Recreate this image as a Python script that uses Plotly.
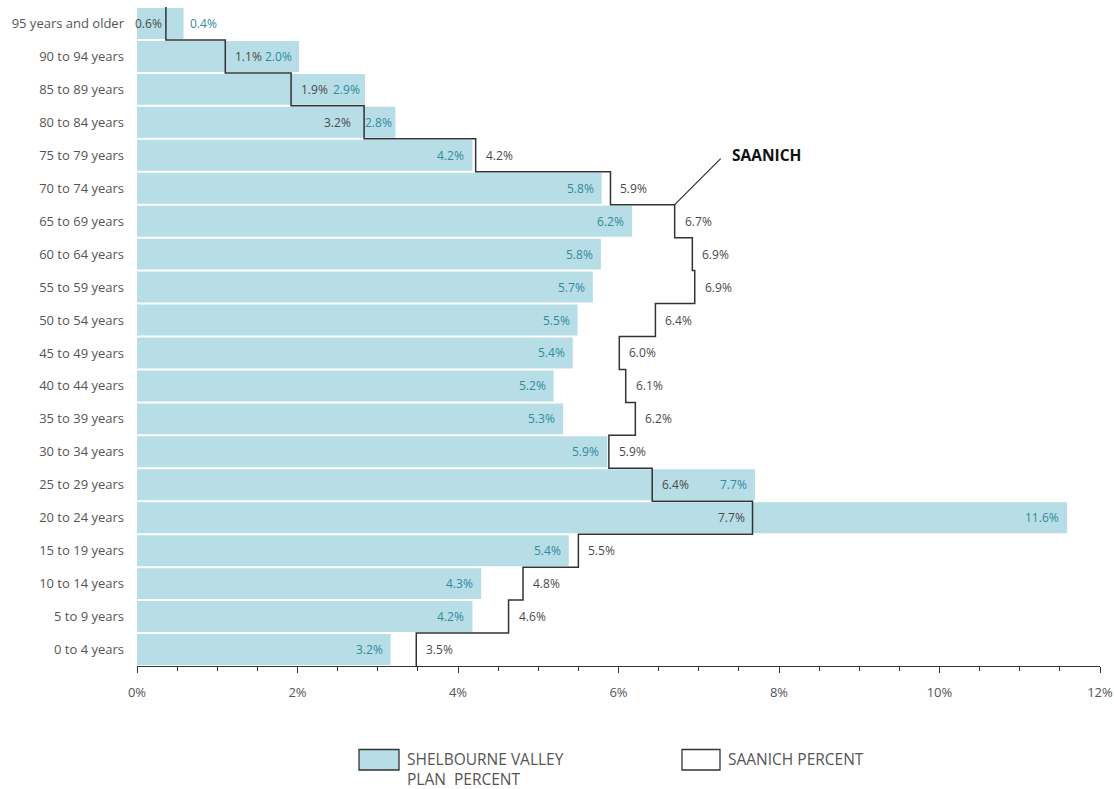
import plotly.graph_objects as go

# ---------------- data ----------------
age_groups = [
    "0 to 4 years", "5 to 9 years", "10 to 14 years", "15 to 19 years",
    "20 to 24 years", "25 to 29 years", "30 to 34 years", "35 to 39 years",
    "40 to 44 years", "45 to 49 years", "50 to 54 years", "55 to 59 years",
    "60 to 64 years", "65 to 69 years", "70 to 74 years", "75 to 79 years",
    "80 to 84 years", "85 to 89 years", "90 to 94 years", "95 years and older",
]
shelbourne_pct = [3.16, 4.18, 4.29, 5.38, 11.59, 7.70, 5.86, 5.31, 5.19, 5.43,
                  5.49, 5.68, 5.78, 6.17, 5.79, 4.18, 3.22, 2.84, 2.02, 0.58]
saanich_pct = [3.48, 4.63, 4.81, 5.50, 7.67, 6.42, 5.88, 6.21, 6.09, 6.01,
               6.46, 6.95, 6.92, 6.70, 5.90, 4.22, 2.83, 1.92, 1.10, 0.36]
shelbourne_labels = ["3.2%", "4.2%", "4.3%", "5.4%", "11.6%", "7.7%", "5.9%", "5.3%",
                     "5.2%", "5.4%", "5.5%", "5.7%", "5.8%", "6.2%", "5.8%", "4.2%",
                     "2.8%", "2.9%", "2.0%", "0.4%"]
saanich_labels = ["3.5%", "4.6%", "4.8%", "5.5%", "7.7%", "6.4%", "5.9%", "6.2%",
                  "6.1%", "6.0%", "6.4%", "6.9%", "6.9%", "6.7%", "5.9%", "4.2%",
                  "3.2%", "1.9%", "1.1%", "0.6%"]
x_ticks = [0, 2, 4, 6, 8, 10, 12]

# ---------------- styles ----------------
BAR_COLOR = "#b7dde6"
TEAL = "#2e8ca0"
LINE_COLOR = "#333333"
GRAY_TEXT = "#555555"
LABEL_GRAY = "#4a4a4a"
FONT = "Open Sans"
LABEL_SIZE = 12

# label placement tweaks (row index -> setting)
teal_outside_rows = {19}
teal_shift_override = {16: -1, 17: -3, 18: -5}
saanich_left_rows = {4: -6, 16: -11, 19: -2}

rows = list(range(len(age_groups)))

fig = go.Figure()

fig.add_trace(go.Bar(
    y=rows, x=shelbourne_pct, orientation="h", width=0.94,
    marker=dict(color=BAR_COLOR, line=dict(width=0)),
    hoverinfo="skip", showlegend=False,
))

# step outline for Saanich
sx, sy = [], []
for i, v in enumerate(saanich_pct):
    sx += [v, v]
    sy += [i - 0.5, i + 0.5]
fig.add_trace(go.Scatter(
    x=sx, y=sy, mode="lines",
    line=dict(color=LINE_COLOR, width=1.5),
    hoverinfo="skip", showlegend=False,
))

annotations = []
for i in rows:
    # Shelbourne labels (teal)
    if i in teal_outside_rows:
        annotations.append(dict(x=shelbourne_pct[i], y=i, text=shelbourne_labels[i],
                                xanchor="left", xshift=4, showarrow=False,
                                font=dict(family=FONT, size=LABEL_SIZE, color=TEAL)))
    else:
        annotations.append(dict(x=shelbourne_pct[i], y=i, text=shelbourne_labels[i],
                                xanchor="right", xshift=teal_shift_override.get(i, -6),
                                showarrow=False,
                                font=dict(family=FONT, size=LABEL_SIZE, color=TEAL)))
    # Saanich labels (gray)
    if i in saanich_left_rows:
        annotations.append(dict(x=saanich_pct[i], y=i, text=saanich_labels[i],
                                xanchor="right", xshift=saanich_left_rows[i],
                                showarrow=False,
                                font=dict(family=FONT, size=LABEL_SIZE, color=LABEL_GRAY)))
    else:
        annotations.append(dict(x=saanich_pct[i], y=i, text=saanich_labels[i],
                                xanchor="left", xshift=8, showarrow=False,
                                font=dict(family=FONT, size=LABEL_SIZE, color=LABEL_GRAY)))

# SAANICH callout
annotations.append(dict(x=saanich_pct[13], y=13.5, text="<b>SAANICH</b>",
                        xanchor="left", yanchor="middle", xshift=55, yshift=50,
                        showarrow=False,
                        font=dict(family=FONT, size=15.5, color="#111111")))

shapes = [
    dict(type="line", xref="x", yref="y",
         xsizemode="pixel", xanchor=saanich_pct[13], x0=0, x1=46,
         ysizemode="pixel", yanchor=13.5, y0=0, y1=46,
         line=dict(color=LINE_COLOR, width=1.2)),
]

# custom legend (paper coords)
plot_l, plot_r, plot_t, plot_b = 137, 1100, 7, 666
pw, ph = plot_r - plot_l, plot_b - plot_t


def px(xp):
    return (xp - plot_l) / pw


def py(yp):
    return (plot_b - yp) / ph


shapes.append(dict(type="rect", xref="paper", yref="paper",
                   x0=px(359), x1=px(399), y0=py(770), y1=py(749.5),
                   fillcolor=BAR_COLOR, line=dict(color="#333333", width=1.3)))
shapes.append(dict(type="rect", xref="paper", yref="paper",
                   x0=px(682), x1=px(720), y0=py(770), y1=py(749.5),
                   fillcolor="white", line=dict(color="#333333", width=1.3)))
legend_font = dict(family=FONT, size=15.5, color=GRAY_TEXT)
annotations.append(dict(xref="paper", yref="paper", x=px(405), y=py(768.5),
                        text="SHELBOURNE VALLEY<br>PLAN  PERCENT", align="left",
                        xanchor="left", yanchor="middle",
                        showarrow=False, font=legend_font))
annotations.append(dict(xref="paper", yref="paper", x=px(726), y=py(758.5),
                        text="SAANICH PERCENT", xanchor="left", yanchor="middle",
                        showarrow=False, font=legend_font))

fig.update_layout(
    width=1114, height=789,
    margin=dict(l=plot_l, r=1114 - plot_r, t=plot_t, b=789 - plot_b, pad=0),
    plot_bgcolor="white", paper_bgcolor="white",
    bargap=0.06,
    annotations=annotations, shapes=shapes,
    showlegend=False,
    xaxis=dict(
        range=[0, 12], tickvals=x_ticks, ticktext=[f"{t}%" for t in x_ticks],
        showgrid=False, zeroline=False, automargin=False,
        showline=True, linecolor=LINE_COLOR, linewidth=1.2,
        ticks="outside", ticklen=6, tickcolor=LINE_COLOR, tickwidth=1.2,
        minor=dict(dtick=0.5, ticks="outside", ticklen=4, tickcolor=LINE_COLOR, tickwidth=1),
        tickfont=dict(family=FONT, size=13, color=GRAY_TEXT),
        ticklabelstandoff=8,
        fixedrange=True,
    ),
    yaxis=dict(
        range=[-0.5, 19.5], tickvals=rows, ticktext=age_groups,
        showgrid=False, zeroline=False, showline=False, ticks="", automargin=False,
        tickfont=dict(family=FONT, size=13, color=GRAY_TEXT),
        ticklabelstandoff=12,
        fixedrange=True,
    ),
)

fig.write_html("out.html")
